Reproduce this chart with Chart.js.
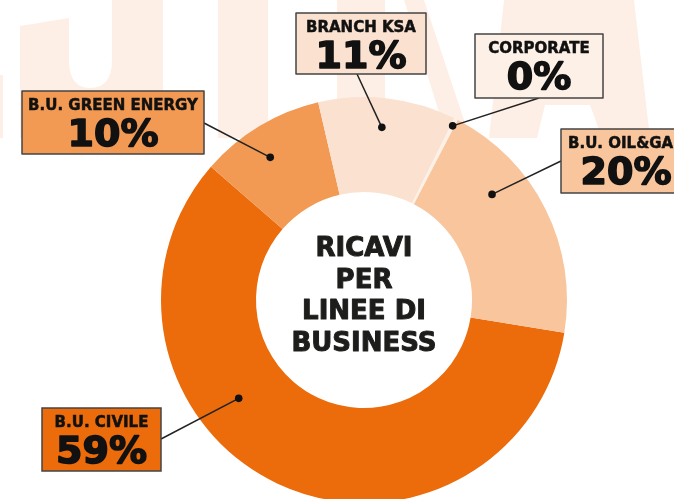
<!DOCTYPE html>
<html>
<head>
<meta charset="utf-8">
<script src="https://cdn.jsdelivr.net/npm/chart.js@4/dist/chart.umd.min.js"></script>
<style>
  html, body { margin: 0; padding: 0; background: #fff; overflow: hidden; width: 674px; height: 499px; }
  #wrap { position: relative; width: 674px; height: 499px; }
  #bg { position: absolute; left: 0; top: 0; }
  #pie { position: absolute; left: 0; top: 0; }
</style>
</head>
<body>
<div id="wrap">
  <!-- faint watermark letters behind the chart -->
  <svg id="bg" width="674" height="499">
    <g fill="#FDEFE6">
      <path d="M20,26 L69,18 L69,60 Q69,88 90,88 Q112,88 112,60 L112,0 L163,0 L163,138 L20,138 Z"/>
      <rect x="0" y="75" width="3" height="63"/>
      <rect x="218" y="0" width="50" height="138"/>
      <rect x="337" y="0" width="48" height="138"/>
      <path d="M404,0 L424,0 L470,138 L447,138 Z"/>
      <path d="M504,0 L634,0 L650,138 L602,138 L590,105 L545,105 L537,138 L489,138 Z"/>
    </g>
  </svg>
  <canvas id="pie" width="674" height="600"></canvas>
</div>
<script>
var categories = ["B.U. CIVILE", "B.U. GREEN ENERGY", "BRANCH KSA", "CORPORATE", "B.U. OIL&GAS"];
var revenueShare = [59, 10, 11, 0.3, 20];
var sliceColors = ["#EC6B0A", "#F29A53", "#FBE1CF", "#FDF0E6", "#F8C59D"];
var centerTitle = ["RICAVI", "PER", "LINEE DI", "BUSINESS"];

// callout boxes: box rect, where the leader leaves the box, and where the dot sits in its slice
var callouts = [
  { box: [42, 408, 119, 63], from: [161, 439], t: 0.626, r: 0.54 },
  { box: [22, 91, 182, 63], from: [204, 123], t: 0.435, r: 0.66 },
  { box: [296, 13, 130, 61], from: [357, 74], t: 0.48, r: 0.69 },
  { box: [475, 34, 128, 64], from: [539, 98], t: 0.5, r: 0.92 },
  { box: [561, 129, 130, 64], from: [561, 161], t: 0.32, r: 0.61 }
];

var total = revenueShare.reduce(function (a, b) { return a + b; }, 0);
var FONT = '"DejaVu Sans", sans-serif';

// fill + thin stroke so the text looks as heavy as the original
function heavyText(ctx, txt, x, y, w) {
  ctx.lineWidth = w;
  ctx.lineJoin = "round";
  ctx.strokeStyle = ctx.fillStyle;
  ctx.strokeText(txt, x, y);
  ctx.fillText(txt, x, y);
}

var calloutPlugin = {
  id: "callouts",
  afterDraw: function (chart) {
    var ctx = chart.ctx;
    var arcs = chart.getDatasetMeta(0).data;
    ctx.save();

    // leader lines and dots
    callouts.forEach(function (c, i) {
      var p = arcs[i].getProps(["x", "y", "startAngle", "endAngle", "innerRadius", "outerRadius"], true);
      var a = p.startAngle + (p.endAngle - p.startAngle) * c.t;
      var rr = p.innerRadius + (p.outerRadius - p.innerRadius) * c.r;
      var dx = p.x + Math.cos(a) * rr;
      var dy = p.y + Math.sin(a) * rr;
      ctx.strokeStyle = "#222";
      ctx.lineWidth = 1.5;
      ctx.beginPath();
      ctx.moveTo(c.from[0], c.from[1]);
      ctx.lineTo(dx, dy);
      ctx.stroke();
      ctx.fillStyle = "#111";
      ctx.beginPath();
      ctx.arc(dx, dy, 3.8, 0, Math.PI * 2);
      ctx.fill();
    });

    // boxes with label and percentage
    callouts.forEach(function (c, i) {
      var b = c.box;
      ctx.fillStyle = sliceColors[i];
      ctx.fillRect(b[0], b[1], b[2], b[3]);
      ctx.strokeStyle = "#444";
      ctx.lineWidth = 1.5;
      ctx.strokeRect(b[0], b[1], b[2], b[3]);
      var cx = b[0] + b[2] / 2;
      ctx.fillStyle = "#111";
      ctx.textAlign = "center";
      ctx.textBaseline = "alphabetic";
      ctx.font = "bold 15px " + FONT;
      heavyText(ctx, categories[i], cx, b[1] + 13 + 5.5, 0.5);
      ctx.font = "bold 38px " + FONT;
      var pct = Math.round(revenueShare[i] / total * 100) + "%";
      heavyText(ctx, pct, cx, b[1] + 41 + 14, 1.6);
    });

    // title in the hole
    var m = arcs[0];
    ctx.fillStyle = "#1D1D1B";
    ctx.font = "bold 26px " + FONT;
    centerTitle.forEach(function (line, i) {
      var yc = m.y + (i - 1.5) * 31.5 - 6;
      heavyText(ctx, line, m.x, yc + 9.5, 1.0);
    });
    ctx.restore();
  }
};

var pieChart = new Chart(document.getElementById("pie"), {
  type: "doughnut",
  data: {
    labels: categories,
    datasets: [
      {
        data: revenueShare,
        backgroundColor: sliceColors,
        borderWidth: 0,
      },
    ],
  },
  options: {
    responsive: false,
    animation: false,
    events: [],
    rotation: 99.3,
    cutout: "53.2%",
    layout: {
      padding: { left: 161, right: 107, top: 97, bottom: 97 },
    },
    plugins: {
      legend: { display: false },
      tooltip: { enabled: false },
    },
  },
  plugins: [calloutPlugin],
});
</script>
</body>
</html>
